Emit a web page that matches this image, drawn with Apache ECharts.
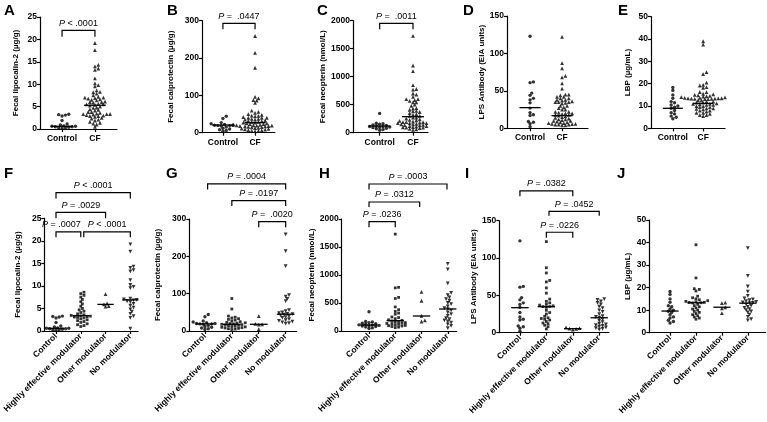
<!DOCTYPE html>
<html><head><meta charset="utf-8">
<script src="https://cdn.jsdelivr.net/npm/echarts@6/dist/echarts.min.js"></script>
<style>html,body{margin:0;padding:0;background:#fff}#c{width:767px;height:422px}</style>
</head><body><div id="c"></div>
<script>
// ---------- categories ----------
const topCats = ['Control', 'CF'];
const subCats = ['Control', 'Highly effective modulator', 'Other modulator', 'No modulator'];

// ---------- values ----------
const lcn2Control = [3.3, 3.2, 3.1, 2.9, 1.9, 1.1, 0.9, 0.7, 0.6, 0.6, 0.5, 0.5, 0.4, 0.3, 0.2, 0.1];
const lcn2HEM = [8.6, 8.3, 7.9, 7.5, 7.0, 6.5, 6.0, 5.5, 5.0, 4.7, 4.4, 4.1, 3.8, 3.6, 3.45, 3.35, 3.3, 3.2, 3.1, 3.0, 2.9, 2.7, 2.5, 2.3, 2.1, 1.9, 1.6, 1.4, 1.2, 1.0];
const lcn2Other = [8.2, 6.1, 5.9, 5.5, 5.4];
const lcn2None = [19.2, 17.6, 14.3, 14.0, 13.5, 13.2, 11.3, 10.2, 9.8, 9.5, 7.2, 7.0, 6.9, 6.8, 6.6, 6.4, 6.0, 5.6, 5.2, 4.8, 4.3, 3.8, 3.3, 2.9, 0.5];

const calproControl = [44, 38, 27, 24, 22, 20, 20, 19, 19, 18, 15, 12, 10, 8, 6, 4];
const calproHEM = [87, 59, 40, 37, 35, 33, 31, 29, 27, 25, 23, 22, 21, 20, 19, 18, 17, 16, 15, 14, 13, 12, 11, 10, 9, 8, 7, 6, 5, 4];
const calproOther = [40, 19, 18, 17, 5];
const calproNone = [259, 214, 174, 96, 92, 86, 80, 56, 53, 50, 48, 46, 45, 44, 42, 40, 37, 35, 32, 29, 27, 25, 23, 21, 20];

const neoControl = [345, 170, 160, 150, 140, 130, 120, 110, 105, 100, 95, 90, 80, 70, 55, 45];
const neoHEM = [1730, 780, 770, 600, 580, 430, 380, 350, 320, 300, 250, 240, 220, 200, 190, 180, 170, 160, 150, 140, 135, 130, 120, 110, 100, 95, 90, 80, 70, 60];
const neoOther = [700, 540, 270, 190, 170];
const neoNone = [1200, 1100, 850, 680, 640, 600, 570, 540, 500, 480, 440, 410, 390, 370, 330, 300, 270, 230, 210, 190, 170, 150, 120, 90, 50];

const lpsControl = [123, 62, 61, 47, 44, 40, 38, 34, 27, 21, 18, 17, 9, 8, 6, 2];
const lpsHEM = [122, 87, 80, 70, 68, 60, 53, 45, 42, 40, 38, 37, 36, 35, 35, 34, 30, 27, 25, 22, 20, 19, 18, 17, 15, 13, 12, 10, 8, 5];
const lpsOther = [7, 6, 5.5, 5, 4];
const lpsNone = [45, 44, 42, 40, 38, 35, 33, 30, 28, 25, 22, 21, 20, 18, 16, 14, 12, 11, 10, 9, 8, 7, 6, 5, 4];

const lbpControl = [18.3, 17, 15, 13.5, 12, 11.5, 10.5, 10, 9.5, 9, 8, 7, 6.5, 5.5, 5, 4.3];
const lbpHEM = [39, 24.3, 19.5, 19.2, 18.5, 16.2, 15.5, 15, 14.6, 14.2, 13.9, 13.7, 13.5, 13.4, 13.3, 13.2, 12.6, 12, 11.5, 11, 10.5, 10, 9.5, 9, 8.5, 8, 7.5, 7, 6.5, 6];
const lbpOther = [13.3, 13.1, 11.2, 10.8, 8.7];
const lbpNone = [37.5, 25.2, 20.5, 18.2, 16.3, 15.2, 14.8, 14.4, 14.0, 13.7, 13.4, 13.2, 13.1, 12.6, 12, 11.5, 11, 10.5, 10, 9.5, 9, 8, 7, 6, 5.5];

// CF = all people with CF (the three modulator subgroups together)
const lcn2CF = [...lcn2HEM, ...lcn2Other, ...lcn2None];
const calproCF = [...calproHEM, ...calproOther, ...calproNone];
const neoCF = [...neoHEM, ...neoOther, ...neoNone];
const lpsCF = [...lpsHEM, ...lpsOther, ...lpsNone];
const lbpCF = [...lbpHEM, ...lbpOther, ...lbpNone];

// medians (horizontal lines)
const lcn2MedTop = [0.6, 5.3], lcn2MedSub = [0.6, 3.4, 5.9, 6.9];
const calproMedTop = [20.5, 26.8], calproMedSub = [19, 18, 18, 45];
const neoMedTop = [119, 286], neoMedSub = [107, 185, 268, 393];
const lpsMedTop = [27.6, 16.9], lpsMedSub = [33.5, 34.8, 5.4, 20];
const lbpMedTop = [9, 11.2], lbpMedSub = [9.6, 13.3, 11.3, 13.1];

// P values
const lcn2PTop = ['< .0001'], lcn2PSub = ['< .0001', '= .0029', '= .0007', '< .0001'];
const calproPTop = ['=  .0447'], calproPSub = ['= .0004', '= .0197', '=  .0020'];
const neoPTop = ['=  .0011'], neoPSub = ['= .0003', '= .0312', '= .0236'];
const lpsPSub = ['= .0382', '= .0452', '= .0226'];

// axis names / ticks
const names = ['Fecal lipocalin-2 (µg/g)', 'Fecal calprotectin (µg/g)', 'Fecal neopterin (nmol/L)', 'LPS Antibody (EIA units)', 'LBP (µg/mL)'];
const yMaxes = [25, 300, 2000, 150, 50];
const ySteps = [5, 100, 500, 50, 10];

// ---------- layout (positions only) ----------
// bracket geometry in data units: [fromCat, toCat, topY, legY, labelShiftPx]
const brTop = [[[0, 1, 22.0, 20.6, 0]], [[0, 1, 293, 277, 0]], [[0, 1, 1954, 1846, 0]], [], []];
const brSub = [
  [[0, 3, 30.7, 29.4, 0], [0, 2, 26.3, 25.0, 0], [0, 1, 22.0, 20.8, -7], [1.12, 3, 22.0, 20.8, 0]],
  [[0.1, 3, 394, 379, 0], [1, 3, 349, 335, 0], [2, 3, 293, 278, 0]],
  [[0, 2.97, 2625, 2527, 0], [0, 1.93, 2304, 2214, 0], [0, 1, 1952, 1852, 0]],
  [[0, 2, 190, 182.7, 0], [1.1, 3, 162.6, 156.7, 0], [1, 2, 134.5, 127.2, 0]],
  []
];
const pTopTexts = [lcn2PTop, calproPTop, neoPTop, [], []];
const pSubTexts = [lcn2PSub, calproPSub, neoPSub, lpsPSub, []];

const gridsTop = [
  {left: 40, top: 17, width: 77, height: 112, xr: [-0.67, 1.67], gap: 20},
  {left: 202, top: 20.7, width: 73, height: 112, xr: [-0.65, 1.62], gap: 27},
  {left: 353, top: 20.7, width: 75, height: 112, xr: [-0.8, 1.45], gap: 21},
  {left: 507, top: 16, width: 81, height: 112.3, xr: [-0.72, 1.81], gap: 19},
  {left: 651, top: 16.7, width: 74, height: 111.7, xr: [-0.72, 1.72], gap: 19}
];
const gridsSub = [
  {left: 39.3, top: 218.3, width: 98.7, height: 112.7, xr: [-0.47, 3.31], gap: 23},
  {left: 189.3, top: 219, width: 107.4, height: 112, xr: [-0.58, 3.41], gap: 28},
  {left: 341.7, top: 219, width: 115, height: 112, xr: [-1.04, 3.34], gap: 22},
  {left: 499.3, top: 220.7, width: 109.7, height: 112, xr: [-0.78, 3.37], gap: 19},
  {left: 649.3, top: 220, width: 116.4, height: 112.7, xr: [-0.8, 3.69], gap: 18}
];
const lettersTop = [['A', 4, 11], ['B', 167, 11], ['C', 317, 11], ['D', 463, 11], ['E', 618, 11]];
const lettersSub = [['F', 4, 174], ['G', 166, 174], ['H', 319, 174], ['I', 465, 174], ['J', 617, 174]];

const dataTop = [[lcn2Control, lcn2CF], [calproControl, calproCF], [neoControl, neoCF], [lpsControl, lpsCF], [lbpControl, lbpCF]];
const dataSub = [
  [lcn2Control, lcn2HEM, lcn2Other, lcn2None],
  [calproControl, calproHEM, calproOther, calproNone],
  [neoControl, neoHEM, neoOther, neoNone],
  [lpsControl, lpsHEM, lpsOther, lpsNone],
  [lbpControl, lbpHEM, lbpOther, lbpNone]
];
const medTop = [lcn2MedTop, calproMedTop, neoMedTop, lpsMedTop, lbpMedTop];
const medSub = [lcn2MedSub, calproMedSub, neoMedSub, lpsMedSub, lbpMedSub];

const symTop = [['circle', 0, 3.4], ['triangle', 0, 3.8]];
const symSub = [['circle', 0, 3.4], ['rect', 0, 2.8], ['triangle', 0, 3.8], ['triangle', 180, 3.8]];

const FONT = 'Liberation Sans, Arial, sans-serif';

// beeswarm layout: horizontal offset (in category units) so dots do not overlap much
function swarm(vals, ppu, ppc, d) {
  const idx = vals.map((v, i) => i).sort((a, b) => vals[a] - vals[b]);
  const placed = [];
  const off = new Array(vals.length).fill(0);
  const s = d * 0.6;
  for (const i of idx) {
    const y = vals[i] * ppu;
    let x = 0;
    for (let k = 0; k < 400; k++) {
      const cand = Math.ceil(k / 2) * s * (k % 2 ? 1 : -1);
      let ok = true;
      for (const p of placed) {
        const dx = p[0] - cand, dy = p[1] - y;
        if (dx * dx + dy * dy < d * d) { ok = false; break; }
      }
      if (ok) { x = cand; break; }
    }
    placed.push([x, y]);
    off[i] = x / ppc;
  }
  return off;
}

const grids = [], xAxes = [], yAxes = [], series = [], graphics = [];

function addPanel(g, cats, groups, meds, name, yMax, yStep, brs, ptexts, syms, rotate) {
  const gi = grids.length;
  grids.push({left: g.left, top: g.top, width: g.width, height: g.height, containLabel: false});
  xAxes.push({
    type: 'value', gridIndex: gi, min: g.xr[0], max: g.xr[1],
    splitLine: {show: false},
    axisLine: {show: true, onZero: false, lineStyle: {color: '#000', width: 1.2}},
    axisTick: {show: true, length: 3, lineStyle: {color: '#000', width: 1.2}, customValues: cats.map((c, i) => i)},
    axisLabel: {
      show: true, customValues: cats.map((c, i) => i), color: '#000', fontFamily: FONT, fontWeight: 'bold',
      fontSize: 8.5, margin: rotate ? 4 : 5, rotate: rotate ? 45 : 0,
      formatter: v => cats[Math.round(v)] || ''
    }
  });
  yAxes.push({
    type: 'value', gridIndex: gi, min: 0, max: yMax, interval: yStep,
    name: name, nameLocation: 'middle', nameGap: g.gap,
    nameTextStyle: {color: '#000', fontFamily: FONT, fontWeight: 'bold', fontSize: 8},
    splitLine: {show: false},
    axisLine: {show: true, onZero: false, lineStyle: {color: '#000', width: 1.2}},
    axisTick: {show: true, length: 3, lineStyle: {color: '#000', width: 1.2}},
    axisLabel: {color: '#000', fontFamily: FONT, fontWeight: 'bold', fontSize: 8.5, margin: 3, formatter: v => String(v)}
  });
  const ppu = g.height / yMax, ppc = g.width / (g.xr[1] - g.xr[0]);
  groups.forEach((vals, ci) => {
    const sym = syms[ci];
    const off = swarm(vals, ppu, ppc, 2.8);
    series.push({
      type: 'scatter', xAxisIndex: gi, yAxisIndex: gi, silent: true,
      symbol: sym[0], symbolRotate: sym[1], symbolSize: sym[2],
      itemStyle: {color: '#000'},
      data: vals.map((v, i) => [ci + off[i], v])
    });
  });
  series.push({
    type: 'custom', xAxisIndex: gi, yAxisIndex: gi, silent: true, clip: false,
    data: meds.map((m, i) => [i, m]),
    renderItem: (params, api) => {
      const p = api.coord([api.value(0), api.value(1)]);
      const w = api.size([0.33, 0])[0];
      return {type: 'line', shape: {x1: p[0] - w, y1: p[1], x2: p[0] + w, y2: p[1]}, style: {stroke: '#000', lineWidth: 1.3}};
    }
  });
  if (brs.length) {
    series.push({
      type: 'custom', xAxisIndex: gi, yAxisIndex: gi, silent: true, clip: false,
      data: brs.map(b => b.slice()),
      renderItem: (params, api) => {
        const x1 = api.value(0), x2 = api.value(1), yt = api.value(2), yl = api.value(3), sh = api.value(4) || 0;
        const a = api.coord([x1, yl]), b = api.coord([x1, yt]), c = api.coord([x2, yt]), d = api.coord([x2, yl]);
        return {type: 'group', children: [
          {type: 'polyline', shape: {points: [a, b, c, d]}, style: {stroke: '#000', lineWidth: 1.2, fill: null}},
          {type: 'text', x: (b[0] + c[0]) / 2 + sh, y: b[1] - 2.5, style: {
            text: '{i|P} {n|' + ptexts[params.dataIndex] + '}', align: 'center', verticalAlign: 'bottom',
            fontFamily: FONT, fontSize: 9, fill: '#000',
            rich: {i: {fontStyle: 'italic', fontFamily: FONT, fontSize: 9, fill: '#000'}, n: {fontFamily: FONT, fontSize: 9, fill: '#000'}}
          }}
        ]};
      }
    });
  }
}

for (let p = 0; p < 5; p++) {
  addPanel(gridsTop[p], topCats, dataTop[p], medTop[p], names[p], yMaxes[p], ySteps[p], brTop[p], pTopTexts[p], symTop, false);
}
for (let p = 0; p < 5; p++) {
  addPanel(gridsSub[p], subCats, dataSub[p], medSub[p], names[p], yMaxes[p], ySteps[p], brSub[p], pSubTexts[p], symSub, true);
}
[...lettersTop, ...lettersSub].forEach(l => {
  graphics.push({type: 'text', left: l[1], top: l[2] - 8, style: {text: l[0], fontFamily: FONT, fontWeight: 'bold', fontSize: 15, fill: '#000'}});
});

const chart = echarts.init(document.getElementById('c'), null, {renderer: 'canvas'});
chart.setOption({
  animation: false,
  backgroundColor: '#fff',
  grid: grids, xAxis: xAxes, yAxis: yAxes, series: series, graphic: graphics
});
</script>
</body></html>
